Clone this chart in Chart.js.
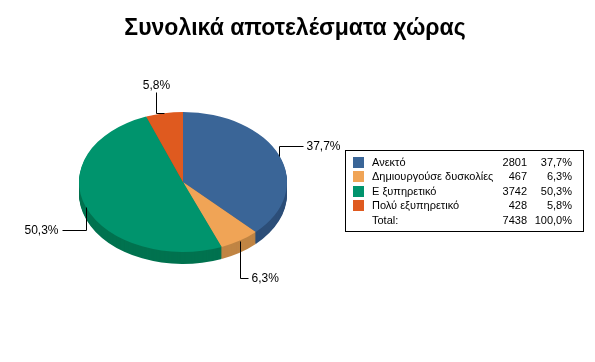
<!DOCTYPE html>
<html>
<head>
<meta charset="utf-8">
<script src="https://cdn.jsdelivr.net/npm/chart.js@4"></script>
<style>
  html, body { margin: 0; padding: 0; background: #fff; }
  #wrap { width: 595px; height: 362px; }
</style>
</head>
<body>
<div id="wrap"><canvas id="pie" width="595" height="362"></canvas></div>
<script>
const titleText = 'Συνολικά αποτελέσματα χώρας';
const categories = ['Ανεκτό', 'Δημιουργούσε δυσκολίες', 'Ε ξυπηρετικό', 'Πολύ εξυπηρετικό'];
const counts = [2801, 467, 3742, 428];
const totalLabel = 'Total:';

const topColors = ['#3a6597', '#f0a456', '#00946d', '#df5a1f'];
const sideColors = ['#2c4e78', '#c08544', '#00724f', '#b04515'];

const total = counts.reduce((a, b) => a + b, 0);
const pct = v => (v / total * 100).toFixed(1).replace('.', ',') + '%';

// ellipse squash and depth of the 3d pie
const squash = 70 / 104;
const depth = 12;

// leader line shapes per slice (relative steps from rim point)
const leaders = [
  { path: [[0, -10], [24, 0]], align: 'left', tx: 3, ty: 0 },
  { path: [[0, 37], [8, 0]], align: 'left', tx: 3, ty: 0 },
  { path: [[0, 23], [-24, 0]], align: 'right', tx: -4, ty: 0 },
  { path: [[-8, 0], [0, -21]], align: 'center', tx: 0, ty: -7 }
];

const pie3d = {
  id: 'pie3d',
  beforeDatasetsDraw(chart) {
    const ctx = chart.ctx;
    const arcs = chart.getDatasetMeta(0).data;
    if (!arcs.length) return;
    const { x, y } = arcs[0].getProps(['x', 'y'], true);
    // side walls
    for (let d = depth; d >= 1; d--) {
      arcs.forEach((arc, i) => {
        const p = arc.getProps(['startAngle', 'endAngle', 'outerRadius'], true);
        ctx.beginPath();
        ctx.moveTo(x, y + d);
        ctx.ellipse(x, y + d, p.outerRadius, p.outerRadius * squash, 0, p.startAngle, p.endAngle);
        ctx.closePath();
        ctx.fillStyle = sideColors[i];
        ctx.fill();
      });
    }
    ctx.save();
    ctx.translate(x, y);
    ctx.scale(1, squash);
    ctx.translate(-x, -y);
  },
  afterDatasetsDraw(chart) {
    const ctx = chart.ctx;
    ctx.restore();
    const arcs = chart.getDatasetMeta(0).data;
    ctx.save();
    ctx.strokeStyle = '#000';
    ctx.lineWidth = 1;
    ctx.fillStyle = '#000';
    ctx.font = '12px "Liberation Sans", Arial, sans-serif';
    ctx.textBaseline = 'middle';
    arcs.forEach((arc, i) => {
      const p = arc.getProps(['x', 'y', 'startAngle', 'endAngle', 'outerRadius'], true);
      const a = (p.startAngle + p.endAngle) / 2;
      let px = Math.round(p.x + p.outerRadius * Math.cos(a)) + 0.5;
      let py = Math.round(p.y + p.outerRadius * squash * Math.sin(a)) + 0.5;
      ctx.beginPath();
      ctx.moveTo(px, py);
      leaders[i].path.forEach(([dx, dy]) => {
        px += dx; py += dy;
        ctx.lineTo(px, py);
      });
      ctx.stroke();
      ctx.textAlign = leaders[i].align;
      ctx.fillText(pct(counts[i]), px + leaders[i].tx, py + leaders[i].ty);
    });
    ctx.restore();
  },
  afterDraw(chart) {
    const ctx = chart.ctx;
    ctx.save();
    // title
    ctx.fillStyle = '#000';
    ctx.font = 'bold 23px "Liberation Sans", Arial, sans-serif';
    ctx.textAlign = 'center';
    ctx.textBaseline = 'alphabetic';
    ctx.fillText(titleText, 295, 35);
    // legend table
    ctx.strokeStyle = '#000';
    ctx.lineWidth = 1;
    ctx.strokeRect(345.5, 150.5, 238, 81);
    ctx.font = '11px "Liberation Sans", Arial, sans-serif';
    ctx.textBaseline = 'middle';
    const rows = categories.map((c, i) => [c, counts[i], pct(counts[i]), topColors[i]]);
    rows.push([totalLabel, total, pct(total), null]);
    rows.forEach((r, i) => {
      const cy = 162.5 + i * 14.5;
      if (r[3]) {
        ctx.fillStyle = r[3];
        ctx.fillRect(353, Math.round(cy - 6), 11, 11);
      }
      ctx.fillStyle = '#000';
      ctx.textAlign = 'left';
      ctx.fillText(r[0], 372, cy);
      ctx.textAlign = 'right';
      ctx.fillText(String(r[1]), 527, cy);
      ctx.fillText(r[2], 572, cy);
    });
    ctx.restore();
  }
};

new Chart(document.getElementById('pie'), {
  type: 'pie',
  data: {
    labels: categories,
    datasets: [{
      data: counts,
      backgroundColor: topColors,
      borderWidth: 0
    }]
  },
  options: {
    responsive: false,
    animation: false,
    layout: { padding: { left: 79, right: 308, top: 78, bottom: 76 } },
    plugins: {
      legend: { display: false },
      title: { display: false },
      tooltip: { enabled: false }
    }
  },
  plugins: [pie3d]
});
</script>
</body>
</html>
